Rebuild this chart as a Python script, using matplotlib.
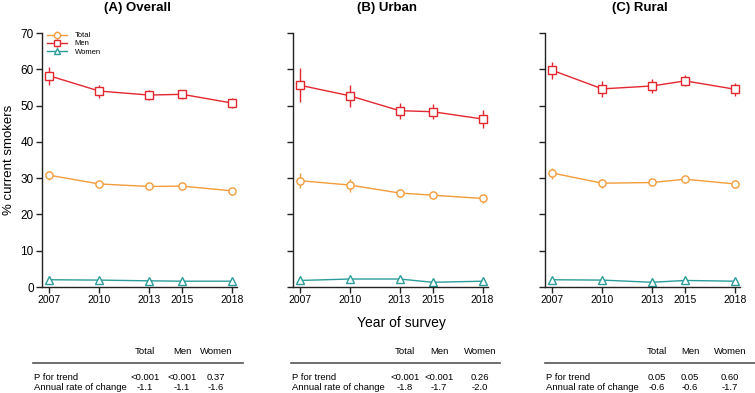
import matplotlib
matplotlib.use("Agg")
import matplotlib.pyplot as plt

years = [2007, 2010, 2013, 2015, 2018]

overall_total = [30.8, 28.4, 27.7, 27.8, 26.5]
overall_total_err = [1.3, 0.8, 0.6, 0.6, 0.7]
overall_men = [58.2, 54.0, 52.9, 53.1, 50.7]
overall_men_err = [2.4, 1.8, 1.5, 1.3, 1.5]
overall_women = [2.0, 1.9, 1.7, 1.6, 1.6]

urban_total = [29.3, 28.1, 25.9, 25.3, 24.4]
urban_total_err = [2.0, 1.8, 1.0, 1.0, 1.3]
urban_men = [55.6, 52.7, 48.6, 48.3, 46.3]
urban_men_err = [4.7, 3.0, 2.2, 2.0, 2.6]
urban_women = [1.8, 2.2, 2.2, 1.3, 1.6]

rural_total = [31.4, 28.6, 28.8, 29.7, 28.4]
rural_total_err = [1.5, 1.3, 0.8, 0.8, 1.0]
rural_men = [59.7, 54.6, 55.4, 56.8, 54.5]
rural_men_err = [2.3, 2.3, 1.8, 1.5, 1.8]
rural_women = [2.0, 1.9, 1.3, 1.8, 1.6]

titles = ["(A) Overall", "(B) Urban", "(C) Rural"]
table_cols = ["Total", "Men", "Women"]
table_rows = ["P for trend", "Annual rate of change"]
p_trend = [["<0.001", "<0.001", "0.37"], ["<0.001", "<0.001", "0.26"], ["0.05", "0.05", "0.60"]]
annual_rate = [["-1.1", "-1.1", "-1.6"], ["-1.8", "-1.7", "-2.0"], ["-0.6", "-0.6", "-1.7"]]

c_total = "#F39C3C"
c_men = "#E3272F"
c_women = "#2A9D9A"

plt.rcParams["font.family"] = ["Liberation Sans", "DejaVu Sans"]

W, H = 755, 393
fig = plt.figure(figsize=(W / 100, H / 100), dpi=100)

lefts = [42, 292.5, 545]
ax_w = 195
ax_bottom = 287
ax_top = 33

panels = [
    (overall_total, overall_total_err, overall_men, overall_men_err, overall_women),
    (urban_total, urban_total_err, urban_men, urban_men_err, urban_women),
    (rural_total, rural_total_err, rural_men, rural_men_err, rural_women),
]

title_x = [137, 387, 640]
for i, (tot, tot_e, men, men_e, wom) in enumerate(panels):
    ax = fig.add_axes([lefts[i] / W, (H - ax_bottom) / H, ax_w / W, (ax_bottom - ax_top) / H])
    kw = dict(linewidth=1.0, markersize=5.2, markerfacecolor="white", markeredgewidth=1.0,
              elinewidth=1.0, capsize=0)
    ax.errorbar(years, tot, yerr=tot_e, color=c_total, marker="o", label="Total", **kw)
    ax.errorbar(years, men, yerr=men_e, color=c_men, marker="s", label="Men", **kw)
    ax.errorbar(years, wom, yerr=None, color=c_women, marker="^", label="Women", **kw)
    ax.set_xlim(2006.55, 2018.3)
    ax.set_ylim(0, 70)
    ax.set_xticks(years)
    ax.set_xticklabels([str(y) for y in years], fontsize=7.5)
    ax.set_yticks(range(0, 71, 10))
    if i == 0:
        ax.set_yticklabels([str(v) for v in range(0, 71, 10)], fontsize=8.5)
        ax.set_ylabel("% current smokers", fontsize=9.5, labelpad=4)
        ax.legend(loc="upper left", bbox_to_anchor=(0.0, 1.025), fontsize=5.5, frameon=False,
                  handlelength=2.6, handletextpad=1.0, labelspacing=0.1, borderaxespad=0.3,
                  markerscale=0.85)
    else:
        ax.set_yticklabels([])
    for s in ["top", "right"]:
        ax.spines[s].set_visible(False)
    for s in ["left", "bottom"]:
        ax.spines[s].set_linewidth(1.0)
        ax.spines[s].set_color("#222222")
    ax.tick_params(direction="out", length=4, width=1.0, color="#222222", pad=2)
    fig.text(title_x[i] / W, 1 - 8 / H, titles[i], ha="center", va="center",
             fontsize=9.5, fontweight="bold")

fig.text(401 / W, 1 - 323 / H, "Year of survey", ha="center", va="center", fontsize=10)

# tables
tfs = 6.8
line_x = [(33, 243), (291, 500), (545, 755)]
col_x = [[145, 182, 216], [405, 439, 480], [657, 690, 730]]
for i in range(3):
    x0, x1 = line_x[i]
    fig.add_artist(plt.Line2D([x0 / W, x1 / W], [1 - 363 / H, 1 - 363 / H],
                              color="#555555", linewidth=1.2, transform=fig.transFigure))
    for j, c in enumerate(table_cols):
        fig.text(col_x[i][j] / W, 1 - 352 / H, c, ha="center", va="center", fontsize=tfs)
    fig.text((x0 + 1) / W, 1 - 377 / H, table_rows[0], ha="left", va="center", fontsize=tfs)
    fig.text((x0 + 1) / W, 1 - 387 / H, table_rows[1], ha="left", va="center", fontsize=tfs)
    for j in range(3):
        fig.text(col_x[i][j] / W, 1 - 377 / H, p_trend[i][j], ha="center", va="center", fontsize=tfs)
        fig.text(col_x[i][j] / W, 1 - 387 / H, annual_rate[i][j], ha="center", va="center", fontsize=tfs)

fig.savefig("out.png", dpi=100)
